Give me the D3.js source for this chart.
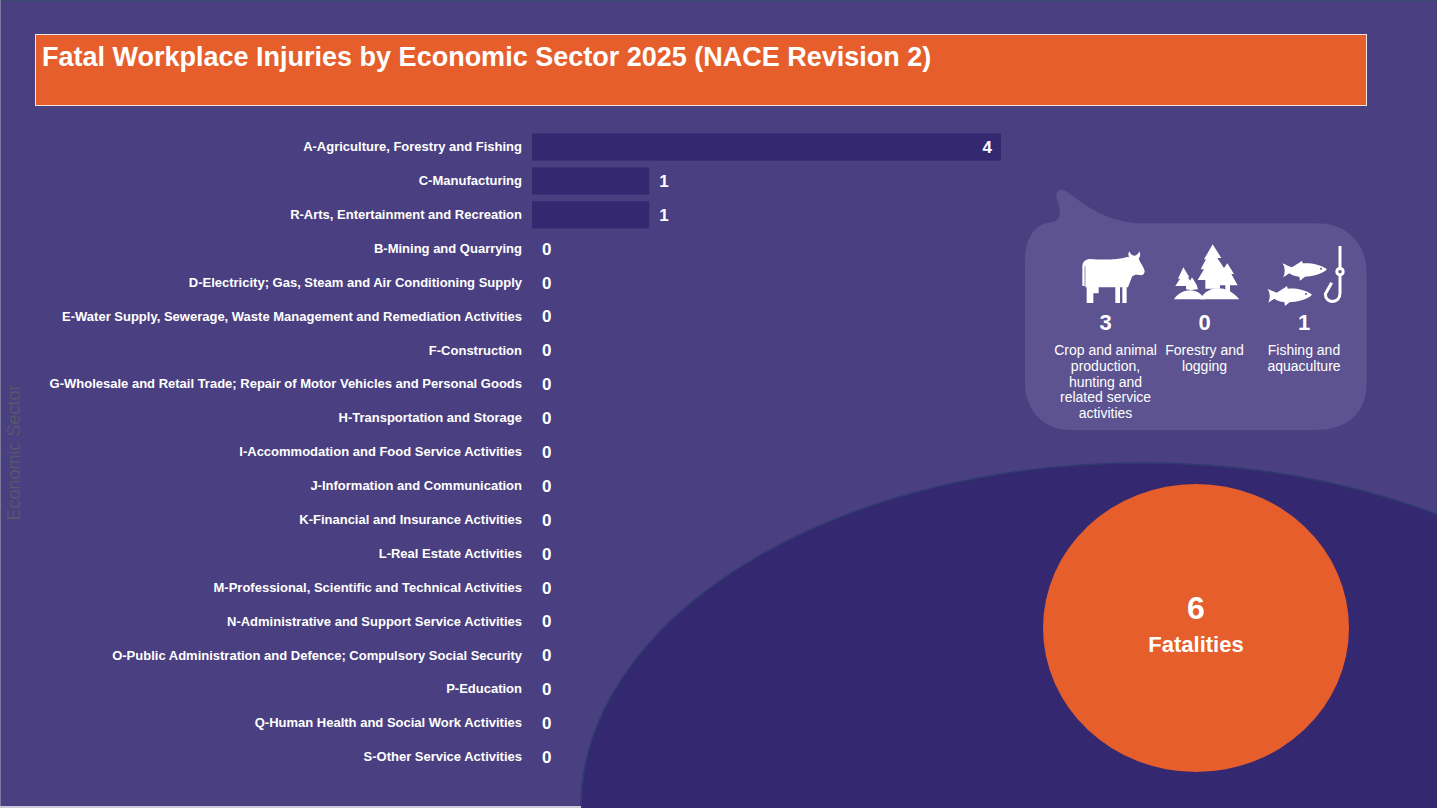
<!DOCTYPE html>
<html><head><meta charset="utf-8">
<script src="https://cdn.jsdelivr.net/npm/d3@7"></script>
<style>
html,body{margin:0;padding:0;background:#4a3f80;overflow:hidden}
svg{display:block}
text{font-family:"Liberation Sans",Arial,sans-serif;fill:#fff}
</style></head><body>
<svg id="c" width="1437" height="808"></svg>
<script>
const chartTitle = "Fatal Workplace Injuries by Economic Sector 2025 (NACE Revision 2)";
const axisTitle = "Economic Sector";
const categories = [
 "A-Agriculture, Forestry and Fishing","C-Manufacturing","R-Arts, Entertainment and Recreation",
 "B-Mining and Quarrying","D-Electricity; Gas, Steam and Air Conditioning Supply",
 "E-Water Supply, Sewerage, Waste Management and Remediation Activities","F-Construction",
 "G-Wholesale and Retail Trade; Repair of Motor Vehicles and Personal Goods","H-Transportation and Storage",
 "I-Accommodation and Food Service Activities","J-Information and Communication",
 "K-Financial and Insurance Activities","L-Real Estate Activities",
 "M-Professional, Scientific and Technical Activities","N-Administrative and Support Service Activities",
 "O-Public Administration and Defence; Compulsory Social Security","P-Education",
 "Q-Human Health and Social Work Activities","S-Other Service Activities"];
const values = [4,1,1,0,0,0,0,0,0,0,0,0,0,0,0,0,0,0,0];
const subValues = [3,0,1];
const subLabels = [
 ["Crop and animal","production,","hunting and","related service","activities"],
 ["Forestry and","logging"],
 ["Fishing and","aquaculture"]];
const totalValue = 6, totalLabel = "Fatalities";

const C = {bg:"#4a3f80",dark:"#342970",orange:"#e65e2c",bubble:"#5d5390"};
const svg = d3.select("#c");

// frame
svg.append("rect").attr("width",1437).attr("height",808).attr("fill",C.bg);
svg.append("ellipse").attr("cx",1142).attr("cy",808).attr("rx",561).attr("ry",345)
  .attr("fill",C.dark).attr("stroke","#2f3a6e").attr("stroke-width",1.5);
svg.append("rect").attr("x",0).attr("y",0).attr("width",1437).attr("height",1.5).attr("fill","#3a4a70");
svg.append("rect").attr("x",0).attr("y",0).attr("width",1).attr("height",808).attr("fill","#7a7a9a");
svg.append("rect").attr("x",0).attr("y",806).attr("width",581).attr("height",2).attr("fill","#c9cbd8");

// title
svg.append("rect").attr("x",35.5).attr("y",34.5).attr("width",1331).attr("height",71)
  .attr("fill",C.orange).attr("stroke","#f0e6e0").attr("stroke-width",1);
svg.append("text").attr("x",42).attr("y",66).attr("font-size",27).attr("font-weight",700).text(chartTitle);

// axis title
svg.append("text").attr("transform","translate(20,452.5) rotate(-90)").attr("text-anchor","middle")
  .attr("font-size",18).style("fill","#56566c").text(axisTitle);

// bars
const y = d3.scaleBand().domain(categories).range([130.1,774.0]).paddingInner(0.2).paddingOuter(0.1);
const x = d3.scaleLinear().domain([0,4]).range([532,1001]);
const axis = d3.axisLeft(y).tickSize(0).tickPadding(10);
const gA = svg.append("g").attr("transform","translate(532,0)").call(axis);
gA.select(".domain").remove();
gA.selectAll("text").attr("font-size",13).attr("font-weight",700)
  .style("font-family",'"Liberation Sans",Arial,sans-serif');

svg.selectAll("rect.bar").data(categories).join("rect").attr("class","bar")
  .attr("x",x(0)).attr("y",d=>y(d)).attr("height",y.bandwidth())
  .attr("width",(d,i)=>x(values[i])-x(0)).attr("fill",C.dark);
svg.selectAll("text.val").data(categories).join("text").attr("class","val")
  .attr("x",(d,i)=>values[i]===4?x(values[i])-9:x(values[i])+10)
  .attr("text-anchor",(d,i)=>values[i]===4?"end":"start")
  .attr("y",d=>y(d)+y.bandwidth()/2+6)
  .attr("font-size",17).attr("font-weight",700)
  .text((d,i)=>values[i]);

// callout
const art = svg.append("g").attr("transform","translate(1020,180) scale(0.33333)");
art.append("path").attr("fill",C.bubble).attr("d",
 "M15,240 C15,170 50,130 90,128 C125,125 125,95 112,62 C102,35 118,22 140,35 C190,70 260,130 370,130 L890,130 C980,130 1040,190 1040,280 L1040,610 C1040,700 980,750 890,750 L150,750 C70,750 15,690 15,610 Z");
const W = art.append("g").attr("fill","#fff");
// cow
W.append("path").attr("d","M187,318 L187,262 C187,245 195,238 210,237 C250,240 290,240 322,231 L327,232 C324,224 325,218 328,214 C331,222 335,226 343,227 C351,226 355,222 358,214 C362,222 361,230 356,236 C362,250 372,262 374,272 C374,282 368,287 358,285 C350,284 342,284 336,290 L324,322 L320,322 L320,369 L307,369 L307,322 L300,322 L300,369 L286,369 L286,322 L236,322 L236,340 L220,340 L220,369 L200,369 L200,322 L196,322 L196,262 C196,256 194,256 194,262 L194,318 Z");
// trees
W.append("path").attr("d","M578,193 L604,234 L592,234 L612,264 L622,250 L642,282 L634,282 L653,316 L630,316 L630,336 L616,332 L616,316 L600,316 L600,326 L556,326 L556,300 L533,300 L552,268 L542,268 L558,238 L552,238 Z");
W.append("path").attr("d","M490,262 L508,292 L504,292 L510,302 L516,292 L530,315 L534,328 L512,330 L498,328 L498,318 L466,318 L480,296 L474,296 Z");
W.append("path").attr("d","M462,358 C475,338 495,330 512,331 C530,332 545,342 556,358 Z");
W.append("path").attr("d","M540,358 C548,345 556,335 574,328 C600,320 630,325 658,358 Z");
// fish
const fish = "M788,250 C800,256 808,260 815,262 C825,256 835,250 846,242 L848,250 C870,248 900,252 921,268 C905,285 870,290 855,290 L840,302 L838,290 C825,290 815,285 808,280 L790,292 C796,278 796,264 788,250 Z";
W.append("path").attr("d",fish);
W.append("path").attr("d",fish).attr("transform","translate(-45,76)");
art.append("circle").attr("cx",903).attr("cy",266).attr("r",3).attr("fill",C.bubble);
art.append("circle").attr("cx",858).attr("cy",342).attr("r",3).attr("fill",C.bubble);
// hook
art.append("path").attr("d","M960,198 L960,340 C960,372 916,372 916,342 L935,308")
  .attr("fill","none").attr("stroke","#fff").attr("stroke-width",9).attr("stroke-linejoin","round");
art.append("circle").attr("cx",960).attr("cy",275).attr("r",14).attr("fill","#fff");
art.append("circle").attr("cx",960).attr("cy",275).attr("r",5).attr("fill",C.bubble);

const cols = [1105.5,1204.5,1304];
const sub = svg.append("g").selectAll("g").data(subValues).join("g")
  .attr("transform",(d,i)=>`translate(${cols[i]},0)`);
sub.append("text").attr("text-anchor","middle").attr("y",330).attr("font-size",22).attr("font-weight",700).text(d=>d);
sub.selectAll("text.l").data((d,i)=>subLabels[i]).join("text").attr("class","l")
  .attr("text-anchor","middle").attr("y",(d,i)=>355+i*15.75).attr("font-size",14).text(d=>d);

// total
svg.append("ellipse").attr("cx",1196).attr("cy",628).attr("rx",153).attr("ry",144).attr("fill",C.orange);
svg.append("text").attr("x",1196).attr("y",619).attr("text-anchor","middle").attr("font-size",32).attr("font-weight",700).text(totalValue);
svg.append("text").attr("x",1196).attr("y",652).attr("text-anchor","middle").attr("font-size",22).attr("font-weight",700).text(totalLabel);
</script>
</body></html>
